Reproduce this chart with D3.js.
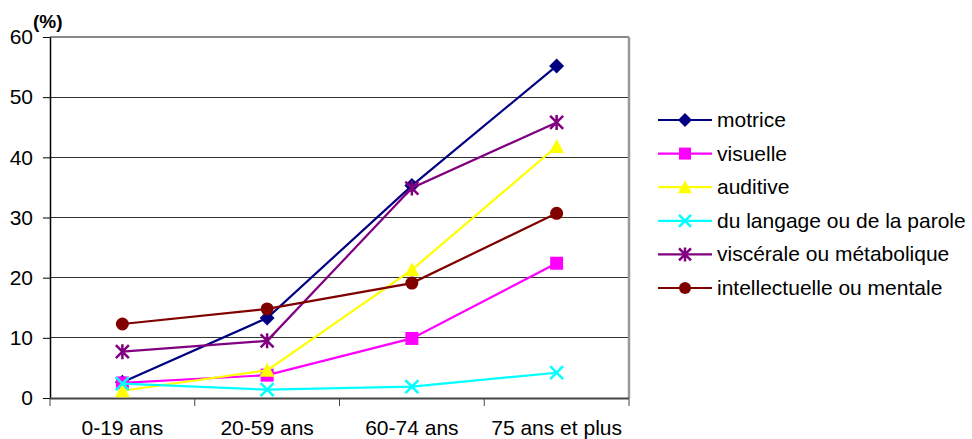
<!DOCTYPE html>
<html>
<head>
<meta charset="utf-8">
<script src="https://cdn.jsdelivr.net/npm/d3@7"></script>
<style>
  html, body { margin: 0; padding: 0; background: #fff; }
  svg { display: block; font-family: Arial, "Liberation Sans", sans-serif; }
</style>
</head>
<body>
<svg id="chart" width="972" height="439"></svg>
<script>
// Age groups and prevalence (%) by type of impairment
const categories = ["0-19 ans", "20-59 ans", "60-74 ans", "75 ans et plus"];
const seriesNames = ["motrice", "visuelle", "auditive", "du langage ou de la parole", "viscérale ou métabolique", "intellectuelle ou mentale"];
const motrice = [2.6, 13.3, 35.3, 55.2];
const visuelle = [2.5, 3.8, 9.9, 22.4];
const auditive = [1.2, 4.6, 21.3, 41.8];
const langage = [2.4, 1.4, 1.9, 4.2];
const viscerale = [7.7, 9.5, 34.9, 45.8];
const intellectuelle = [12.3, 14.8, 19.1, 30.7];
const yTicks = [0, 10, 20, 30, 40, 50, 60];

const seriesValues = [motrice, visuelle, auditive, langage, viscerale, intellectuelle];
const colors = ["#000080", "#ff00ff", "#ffff00", "#00ffff", "#800080", "#800000"];
const markers = ["diamond", "square", "triangle", "x", "star", "circle"];

const svg = d3.select("#chart");
const plotLeft = 50, plotRight = 629, plotTop = 37, plotBottom = 398;

const x = d3.scaleBand().domain(categories).range([plotLeft, plotRight]).padding(0);
const y = d3.scaleLinear().domain([0, 60]).range([plotBottom, plotTop]);

// Horizontal gridlines
svg.append("g")
  .selectAll("line")
  .data(yTicks.filter(d => d > 0 && d < 60))
  .join("line")
  .attr("x1", plotLeft).attr("x2", plotRight)
  .attr("y1", d => y(d)).attr("y2", d => y(d))
  .attr("stroke", "#333").attr("stroke-width", 1)
  .attr("shape-rendering", "crispEdges");

// Plot-area border (top and right)
svg.append("line").attr("x1", plotLeft).attr("x2", plotRight).attr("y1", y(60)).attr("y2", y(60))
  .attr("stroke", "#888").attr("stroke-width", 2);
svg.append("line").attr("x1", plotRight).attr("x2", plotRight).attr("y1", y(60)).attr("y2", plotBottom)
  .attr("stroke", "#999").attr("stroke-width", 2.5);

// Y axis
const yAxis = svg.append("g")
  .attr("transform", `translate(${plotLeft},0)`)
  .call(d3.axisLeft(y).tickValues(yTicks).tickSize(7).tickPadding(10).tickSizeOuter(0));
yAxis.select(".domain").attr("stroke", "#000").attr("stroke-width", 1.5);
yAxis.selectAll(".tick line").attr("stroke", "#000");
yAxis.selectAll(".tick text").attr("font-size", 21).attr("fill", "#000")
  .attr("font-family", "Arial, 'Liberation Sans', sans-serif");

// X axis with ticks at category boundaries
const xAxis = svg.append("g").attr("transform", `translate(0,${plotBottom})`);
xAxis.append("line").attr("x1", plotLeft).attr("x2", plotRight).attr("y1", 0.5).attr("y2", 0.5)
  .attr("stroke", "#444").attr("stroke-width", 2);
const bounds = categories.map(c => x(c)).concat([x(categories[categories.length - 1]) + x.bandwidth()]);
xAxis.selectAll("line.tk").data(bounds).join("line").attr("class", "tk")
  .attr("x1", d => d).attr("x2", d => d).attr("y1", 0).attr("y2", 8)
  .attr("stroke", "#444").attr("stroke-width", 1);
xAxis.selectAll("text").data(categories).join("text")
  .attr("x", d => x(d) + x.bandwidth() / 2).attr("y", 37)
  .attr("text-anchor", "middle").attr("font-size", 21).attr("fill", "#000")
  .text(d => d);

// Unit label
svg.append("text").attr("x", 33).attr("y", 28).attr("font-size", 19).attr("font-weight", "bold")
  .text("(%)");

// Marker drawing
function drawMarker(g, type, color, cx, cy, s) {
  const h = s / 2;
  if (type === "diamond") {
    g.append("path").attr("d", `M${cx},${cy - h - 1}L${cx + h + 1},${cy}L${cx},${cy + h + 1}L${cx - h - 1},${cy}Z`).attr("fill", color);
  } else if (type === "square") {
    g.append("rect").attr("x", cx - h).attr("y", cy - h).attr("width", s).attr("height", s).attr("fill", color);
  } else if (type === "triangle") {
    g.append("path").attr("d", `M${cx},${cy - h - 1}L${cx + h + 1},${cy + h}L${cx - h - 1},${cy + h}Z`).attr("fill", color);
  } else if (type === "x") {
    g.append("path").attr("d", `M${cx - h},${cy - h}L${cx + h},${cy + h}M${cx - h},${cy + h}L${cx + h},${cy - h}`)
      .attr("stroke", color).attr("stroke-width", 2.5).attr("fill", "none");
  } else if (type === "star") {
    g.append("path").attr("d", `M${cx - h},${cy - h}L${cx + h},${cy + h}M${cx - h},${cy + h}L${cx + h},${cy - h}M${cx},${cy - h - 1}L${cx},${cy + h + 1}`)
      .attr("stroke", color).attr("stroke-width", 2.5).attr("fill", "none");
  } else if (type === "circle") {
    g.append("circle").attr("cx", cx).attr("cy", cy).attr("r", h).attr("fill", color);
  }
}

const line = d3.line().x((d, i) => x(categories[i]) + x.bandwidth() / 2).y(d => y(d));

seriesValues.forEach((vals, si) => {
  const g = svg.append("g");
  g.append("path").datum(vals).attr("d", line)
    .attr("fill", "none").attr("stroke", colors[si]).attr("stroke-width", 2.2);
  vals.forEach((v, i) => {
    drawMarker(g, markers[si], colors[si], x(categories[i]) + x.bandwidth() / 2, y(v), 13);
  });
});

// Legend
const legend = svg.append("g");
const legY0 = 120, legStep = 33.6;
seriesNames.forEach((name, si) => {
  const ly = legY0 + si * legStep;
  const g = legend.append("g");
  g.append("line").attr("x1", 658).attr("x2", 712).attr("y1", ly).attr("y2", ly)
    .attr("stroke", colors[si]).attr("stroke-width", 2.2);
  drawMarker(g, markers[si], colors[si], 685, ly, 12);
  g.append("text").attr("x", 717).attr("y", ly + 7).attr("font-size", 21).attr("fill", "#000").text(name);
});
</script>
</body>
</html>
